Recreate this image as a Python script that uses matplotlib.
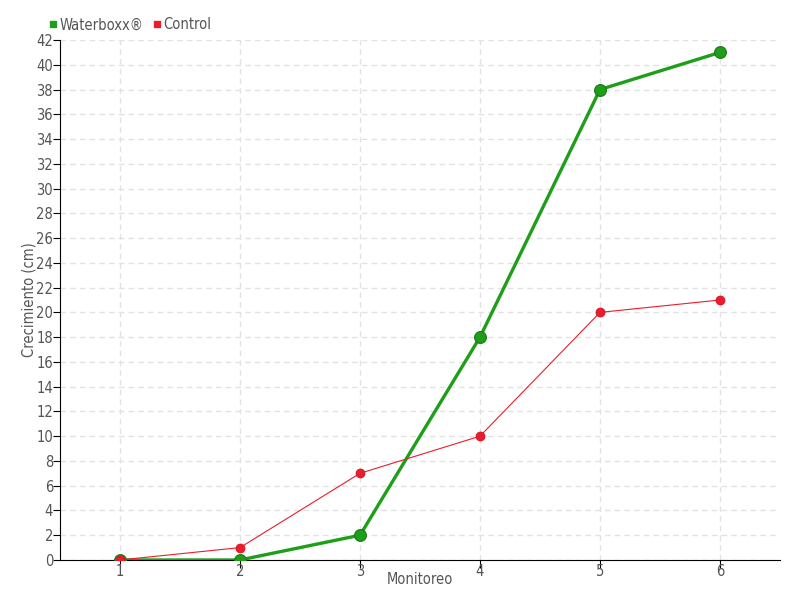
import matplotlib.pyplot as plt
from matplotlib.lines import Line2D

plt.rcParams['font.family'] = ['DejaVu Sans']
plt.rcParams['font.stretch'] = 'condensed'

monitoreo = [1, 2, 3, 4, 5, 6]
waterboxx = [0, 0, 2, 18, 38, 41]
control = [0, 1, 7, 10, 20, 21]

green = '#1f9e1a'
red = '#ec1c2c'
text_col = '#555555'

fig = plt.figure(figsize=(8, 6), dpi=100)
ax = fig.add_axes([0.075, 0.0667, 0.9, 0.8666])

ax.plot(monitoreo, waterboxx, color=green, lw=2.4, marker='o', ms=8.5,
        mfc=green, mec='#177a14', mew=0.8, zorder=4)
ax.plot(monitoreo, control, color=red, lw=0.8, marker='o', ms=6.5,
        mfc=red, mec='#c8101e', mew=0.5, zorder=5)

ax.set_xlim(0.5, 6.5)
ax.set_ylim(0, 42)
ax.set_xticks(monitoreo)
ax.set_yticks(range(0, 43, 2))
ax.grid(True, color='#e2e2e2', ls=(0, (4, 3)), lw=1)
ax.set_axisbelow(True)

for s in ['top', 'right']:
    ax.spines[s].set_visible(False)
ax.spines['left'].set_color('black')
ax.spines['bottom'].set_color('black')
ax.tick_params(axis='both', colors='black', labelcolor=text_col, labelsize=10.5, length=5)
ax.tick_params(axis='x', pad=-3, length=6)
ax.tick_params(axis='y', pad=0)

ax.set_xlabel('Monitoreo', color=text_col, fontsize=10.5)
ax.set_ylabel('Crecimiento (cm)', color=text_col, fontsize=10.5)
ax.xaxis.set_label_coords(0.5, -0.024)
ax.yaxis.set_label_coords(-0.033, 0.5)

handles = [Line2D([], [], ls='', marker='s', ms=5, color=green),
           Line2D([], [], ls='', marker='s', ms=5, color=red)]
fig.legend(handles, ['Waterboxx®', 'Control'], loc='upper left',
           bbox_to_anchor=(0.043, 0.993), ncol=2, frameon=False,
           handletextpad=0.05, columnspacing=0.5, handlelength=0.8,
           labelcolor=text_col, fontsize=10.5)

fig.savefig('out.png')
